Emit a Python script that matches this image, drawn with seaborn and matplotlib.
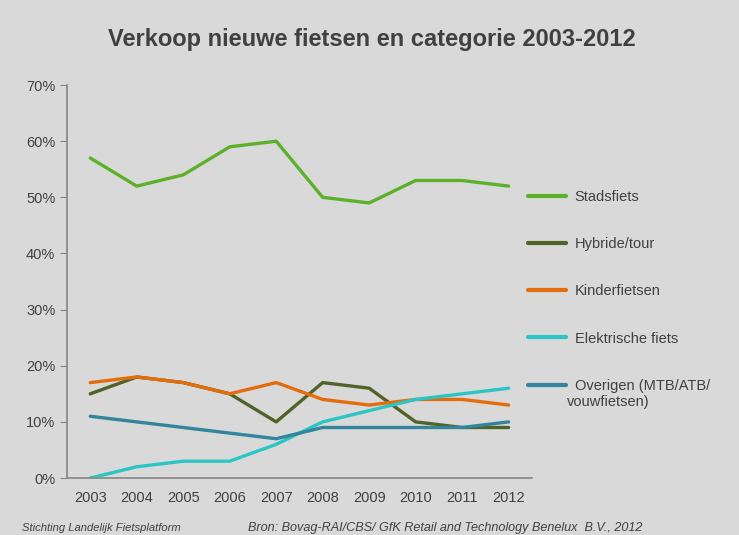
import numpy as np
import pandas as pd
import seaborn as sns
import matplotlib.pyplot as plt
from matplotlib.ticker import FixedLocator, PercentFormatter

# data (percent of sales)
years = [2003, 2004, 2005, 2006, 2007, 2008, 2009, 2010, 2011, 2012]
stadsfiets = [57, 52, 54, 59, 60, 50, 49, 53, 53, 52]
hybride = [15, 18, 17, 15, 10, 17, 16, 10, 9, 9]
kinder = [17, 18, 17, 15, 17, 14, 13, 14, 14, 13]
elektrisch = [0, 2, 3, 3, 6, 10, 12, 14, 15, 16]
overigen = [11, 10, 9, 8, 7, 9, 9, 9, 9, 10]

categories = ["Stadsfiets", "Hybride/tour", "Kinderfietsen",
              "Elektrische fiets", "Overigen (MTB/ATB/"]
colors = ["#5db12a", "#4f6228", "#e46c0a", "#2cc5c5", "#31859c"]
series = [stadsfiets, hybride, kinder, elektrisch, overigen]

df = pd.concat([pd.DataFrame({"jaar": years, "aandeel": s, "categorie": c})
                for c, s in zip(categories, series)])

sns.set_style("white")
plt.rcParams["font.family"] = ["Liberation Sans", "DejaVu Sans"]

bg = "#d9d9d9"
txt = "#404040"
fig = plt.figure(figsize=(7.39, 5.35), dpi=100, facecolor=bg)
ax = fig.add_axes([0.0907, 0.1065, 0.629, 0.7345], facecolor=bg)

sns.lineplot(data=df, x="jaar", y="aandeel", hue="categorie",
             palette=colors, linewidth=2.4, ax=ax, legend=False)

ax.set_xlim(2002.5, 2012.5)
ax.set_ylim(0, 70)
ax.set_yticks(np.arange(0, 71, 10))
ax.yaxis.set_major_formatter(PercentFormatter(decimals=0))
ax.set_xticks(years)
ax.xaxis.set_minor_locator(FixedLocator([y + 0.5 for y in [2002] + years]))
ax.tick_params(axis="x", which="major", length=0, pad=9.5)
ax.tick_params(axis="x", which="minor", length=5, color="#868686", direction="out")
ax.tick_params(axis="y", length=5, color="#868686", direction="out", left=True, pad=3.5)
ax.tick_params(labelsize=10.5, labelcolor=txt)
ax.set_xlabel("")
ax.set_ylabel("")
for side in ["top", "right"]:
    ax.spines[side].set_visible(False)
for side in ["left", "bottom"]:
    ax.spines[side].set_color("#868686")
    ax.spines[side].set_linewidth(1.2)

handles = [plt.Line2D([], [], color=c, linewidth=3) for c in colors]
fig.legend(handles, categories, loc="upper left", bbox_to_anchor=(0.6963, 0.669),
           frameon=False, fontsize=10.5, labelspacing=2.27, handlelength=2.6,
           handletextpad=0.62, labelcolor=txt)
fig.text(567 / 739, 1 - 402 / 535, "vouwfietsen)", fontsize=10.5, color=txt,
         va="center", ha="left")

fig.text(0.503, 0.927, "Verkoop nieuwe fietsen en categorie 2003-2012",
         ha="center", va="center", fontsize=17, fontweight="bold", color=txt)
fig.text(22 / 739, 0.007, "Stichting Landelijk Fietsplatform", fontsize=8.1,
         style="italic", color=txt)
fig.text(248 / 739, 0.007, "Bron: Bovag-RAI/CBS/ GfK Retail and Technology Benelux  B.V., 2012",
         fontsize=9.1, style="italic", color=txt)

fig.savefig("out.png", dpi=100, facecolor=bg)
